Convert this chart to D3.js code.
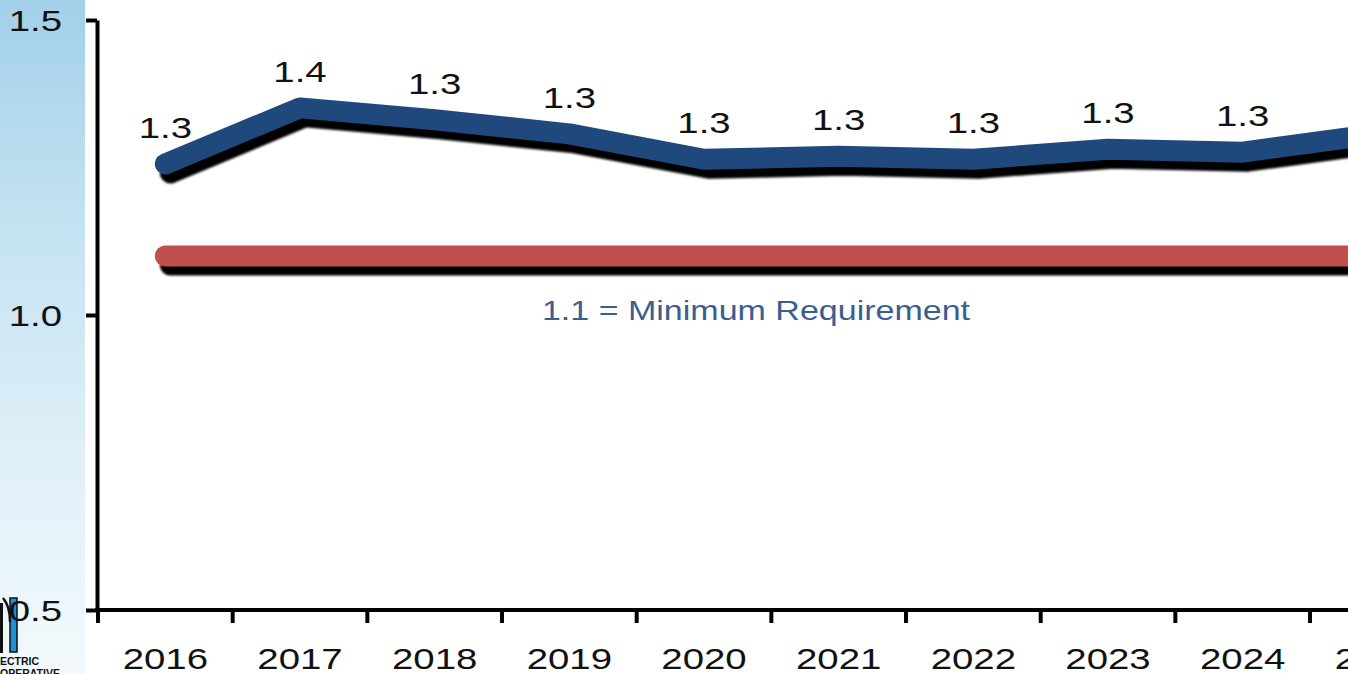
<!DOCTYPE html>
<html>
<head>
<meta charset="utf-8">
<script src="https://cdn.jsdelivr.net/npm/d3@7"></script>
<style>
  html, body { margin: 0; padding: 0; background: #ffffff; overflow: hidden; }
  svg { display: block; }
  text { font-family: "Liberation Sans", Arial, Helvetica, sans-serif; }
</style>
</head>
<body>
<svg id="chart" width="1348" height="674"></svg>
<script>
// ---- data ----
const years = ["2016", "2017", "2018", "2019", "2020", "2021", "2022", "2023", "2024", "2025"];
const ratio = [1.256, 1.351, 1.331, 1.307, 1.264, 1.269, 1.264, 1.281, 1.276, 1.307];
const minimumValue = 1.1;
const minimumLabel = "1.1 = Minimum Requirement";
const yTicks = [0.5, 1.0, 1.5];

// ---- layout ----
const W = 1348, H = 674;
const plotLeft = 97, plotTop = 20, plotBottom = 610;
const step = 134.67;
const SX = 1.28; // horizontal stretch of the lettering

const svg = d3.select("#chart");
const defs = svg.append("defs");

const grad = defs.append("linearGradient").attr("id", "bg").attr("x1", 0).attr("y1", 0).attr("x2", 0).attr("y2", 1);
grad.append("stop").attr("offset", "0%").attr("stop-color", "#a2d0e8");
grad.append("stop").attr("offset", "35%").attr("stop-color", "#c6e3f2");
grad.append("stop").attr("offset", "75%").attr("stop-color", "#e4f2f9");
grad.append("stop").attr("offset", "100%").attr("stop-color", "#f3f9fc");

const blur = defs.append("filter").attr("id", "soft").attr("filterUnits", "userSpaceOnUse")
  .attr("x", 0).attr("y", 0).attr("width", W + 200).attr("height", H);
blur.append("feGaussianBlur").attr("stdDeviation", 0.8);

// background strip on the left (slide background)
svg.append("rect").attr("x", 0).attr("y", 0).attr("width", 85).attr("height", H).attr("fill", "url(#bg)");

// logo fragment at bottom-left
const logo = svg.append("g");
logo.append("rect").attr("x", -2).attr("y", 603).attr("width", 5).attr("height", 50).attr("fill", "#111");
logo.append("path").attr("d", "M10,598 L17,598 L17,652 L10,652 Z").attr("fill", "#1e90d6").attr("stroke", "#111").attr("stroke-width", 1.5);
logo.append("path").attr("d", "M3,598 Q10,606 10,622").attr("fill", "none").attr("stroke", "#111").attr("stroke-width", 2.5);
logo.append("text").attr("x", 0).attr("y", 665).attr("font-size", 10).attr("font-weight", "bold").attr("fill", "#111")
  .attr("transform", "scale(1.05,1)").text("ECTRIC");
logo.append("text").attr("x", 0).attr("y", 677).attr("font-size", 10).attr("font-weight", "bold").attr("fill", "#111")
  .attr("transform", "scale(1.05,1)").text("OPERATIVE");

// ---- scales ----
const x = d3.scaleBand().domain(years).range([plotLeft + 1, plotLeft + 1 + step * years.length]).padding(0);
const y = d3.scaleLinear().domain([0.5, 1.5]).range([plotBottom, plotTop]);
const cx = d => x(d) + x.bandwidth() / 2;

// ---- y axis ----
const yAxis = d3.axisLeft(y).tickValues(yTicks).tickFormat(d3.format(".1f")).tickSize(11).tickSizeOuter(0);
const gy = svg.append("g").attr("transform", `translate(${plotLeft},0)`).call(yAxis);
gy.select(".domain").attr("stroke", "#000").attr("stroke-width", 4);
gy.selectAll(".tick line").attr("stroke", "#000").attr("stroke-width", 4);
gy.selectAll(".tick text").attr("font-size", 30).attr("fill", "#111")
  .attr("font-family", "'Liberation Sans', Arial, sans-serif")
  .attr("x", 0).attr("dy", "0.36em").attr("text-anchor", "end")
  .attr("transform", `translate(-35,0) scale(${SX},1)`);

// ---- x axis ----
const xAxis = d3.axisBottom(x).tickSize(0).tickSizeOuter(0);
const gx = svg.append("g").attr("transform", `translate(0,${plotBottom})`).call(xAxis);
gx.select(".domain").remove();
gx.selectAll(".tick text").attr("font-size", 30).attr("fill", "#111")
  .attr("font-family", "'Liberation Sans', Arial, sans-serif")
  .attr("y", 0).attr("dy", 0).attr("transform", `translate(0,59) scale(${SX},1)`);
svg.append("line").attr("x1", plotLeft - 2).attr("x2", W + 10).attr("y1", plotBottom).attr("y2", plotBottom)
  .attr("stroke", "#000").attr("stroke-width", 4);
svg.append("g").selectAll("line").data(years).join("line")
  .attr("x1", d => x(d)).attr("x2", d => x(d))
  .attr("y1", plotBottom).attr("y2", plotBottom + 13)
  .attr("stroke", "#000").attr("stroke-width", 4);

// ---- minimum requirement line ----
const minLine = d3.line().x(d => cx(d)).y(() => y(minimumValue));
const minData = [years[0], years[years.length - 1]];
svg.append("path").datum(minData).attr("d", minLine)
  .attr("transform", "translate(5,9)").attr("fill", "none").attr("stroke", "#000")
  .attr("stroke-width", 21).attr("stroke-linecap", "round").attr("filter", "url(#soft)");
svg.append("path").datum(minData).attr("d", minLine)
  .attr("fill", "none").attr("stroke", "#c0504d")
  .attr("stroke-width", 21).attr("stroke-linecap", "round");

svg.append("text").attr("x", 0).attr("y", 0)
  .attr("transform", `translate(756,${y(minimumValue) + 64}) scale(1.26,1)`)
  .attr("text-anchor", "middle").attr("font-size", 27)
  .attr("fill", "#3a5f8f").text(minimumLabel);

// ---- ratio series ----
const series = years.map((d, i) => ({ year: d, value: ratio[i] }));
const line = d3.line().x(d => cx(d.year)).y(d => y(d.value));
svg.append("path").datum(series).attr("d", line)
  .attr("transform", "translate(5,9)").attr("fill", "none").attr("stroke", "#000")
  .attr("stroke-width", 21).attr("stroke-linecap", "round").attr("stroke-linejoin", "round").attr("filter", "url(#soft)");
svg.append("path").datum(series).attr("d", line)
  .attr("fill", "none").attr("stroke", "#1f497d")
  .attr("stroke-width", 21).attr("stroke-linecap", "round").attr("stroke-linejoin", "round");

// data labels
svg.append("g").selectAll("text").data(series).join("text")
  .attr("x", 0).attr("y", 0)
  .attr("transform", d => `translate(${cx(d.year)},${y(d.value) - 26}) scale(${SX},1)`)
  .attr("text-anchor", "middle").attr("font-size", 30)
  .attr("fill", "#111").text(d => d3.format(".1f")(d.value));
</script>
</body>
</html>
